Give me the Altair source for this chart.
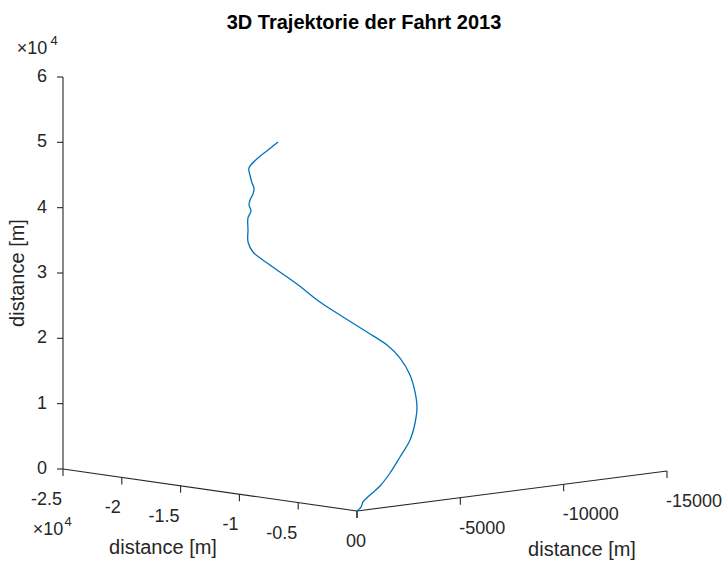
import altair as alt
import pandas as pd

# Trajectory of the 2013 ride, metres
traj_x = [0, -55, -150, -210, -285, -355, -430, -500, -600, -700,
          -1130, -1820, -2930, -4300, -6270, -8570, -11060, -13540, -16630, -18860,
          -19810, -20340, -20870, -21140, -21570, -21750, -21760, -21940, -22370, -22810,
          -23160, -22920, -22590, -22270]
traj_y = [0, -225, -375, -750, -1275, -1800, -2325, -2850, -3150, -3300,
          -3450, -3600, -3750, -3900, -4050, -4200, -4500, -4800, -5250, -5700,
          -6000, -6300, -6600, -6900, -7050, -7200, -7350, -7500, -7650, -7800,
          -7950, -8250, -8550, -8850]
traj_z = [0, 500, 1190, 2090, 3230, 4990, 7210, 9580, 12030, 14390,
          16520, 18880, 21130, 22710, 24130, 25780, 27310, 29300, 31240, 32470,
          33630, 35210, 36790, 37670, 38410, 39070, 39920, 40730, 41330, 42380,
          43300, 44770, 45950, 47140]

# Axis ticks and their labels
x_tick_vals = [-25000, -20000, -15000, -10000, -5000, 0]
x_tick_text = ["-2.5", "-2", "-1.5", "-1", "-0.5", "0"]
y_tick_vals = [0, -5000, -10000, -15000]
y_tick_text = ["0", "-5000", "-10000", "-15000"]
z_tick_vals = [0, 10000, 20000, 30000, 40000, 50000, 60000]
z_tick_text = ["0", "1", "2", "3", "4", "5", "6"]

TITLE = "3D Trajektorie der Fahrt 2013"
AXIS_TITLE = "distance [m]"

# Axis limits of the 3D box
X_LIM, Y_LIM, Z_LIM = -25000, -15000, 60000

# Orthographic view: on-screen span (px to the right, px up) of each full axis
SPAN = {"x": (-294, 42), "y": (310, 40), "z": (0, 392)}

FONT = "Liberation Sans"
AX_COLOR = "#262626"
LINE_COLOR = "#0072BD"


def proj(px="x", py="y", pz="z"):
    fx = f"(datum.{px}/{X_LIM})"
    fy = f"(datum.{py}/{Y_LIM})"
    fz = f"(datum.{pz}/{Z_LIM})"
    h = f"{SPAN['x'][0]}*{fx} + {SPAN['y'][0]}*{fy} + {SPAN['z'][0]}*{fz}"
    v = f"{SPAN['x'][1]}*{fx} + {SPAN['y'][1]}*{fy} + {SPAN['z'][1]}*{fz}"
    return h, v


XS = alt.Scale(domain=[-357, 366], nice=False, zero=False)
YS = alt.Scale(domain=[-52, 511], nice=False, zero=False)


def enc_x(f="h"):
    return alt.X(f"{f}:Q", scale=XS, axis=None)


def enc_y(f="v"):
    return alt.Y(f"{f}:Q", scale=YS, axis=None)


H, V = proj()
H2, V2 = proj("x2", "y2", "z2")

# trajectory line
traj_df = pd.DataFrame({"i": list(range(len(traj_x))), "x": traj_x, "y": traj_y, "z": traj_z})
trajectory = (
    alt.Chart(traj_df)
    .transform_calculate(h=H, v=V)
    .mark_line(color=LINE_COLOR, strokeWidth=1.3, interpolate="catmull-rom")
    .encode(x=enc_x(), y=enc_y(), order="i:Q")
)

# the three axis lines of the box
axes_df = pd.DataFrame({
    "x": [X_LIM, 0, X_LIM], "y": [0, 0, 0], "z": [0, 0, 0],
    "x2": [0, 0, X_LIM], "y2": [0, Y_LIM, 0], "z2": [0, 0, Z_LIM],
})
axis_lines = (
    alt.Chart(axes_df)
    .transform_calculate(h=H, v=V, h2=H2, v2=V2)
    .mark_rule(color=AX_COLOR, strokeWidth=1.1)
    .encode(x=enc_x(), y=enc_y(), x2="h2:Q", y2="v2:Q")
)

xt_df = pd.DataFrame({"x": x_tick_vals, "y": 0, "z": 0, "label": x_tick_text})
yt_df = pd.DataFrame({"x": 0, "y": y_tick_vals, "z": 0, "label": y_tick_text})
zt_df = pd.DataFrame({"x": X_LIM, "y": 0, "z": z_tick_vals, "label": z_tick_text})


def ticks(df, dh, dv):
    return (
        alt.Chart(df)
        .transform_calculate(h=H, v=V)
        .transform_calculate(h2=f"datum.h + {dh}", v2=f"datum.v + {dv}")
        .mark_rule(color=AX_COLOR, strokeWidth=1.1)
        .encode(x=enc_x(), y=enc_y(), x2="h2:Q", y2="v2:Q")
    )


def tick_labels(df, align, dx, dy):
    return (
        alt.Chart(df)
        .transform_calculate(h=H, v=V)
        .mark_text(font=FONT, fontSize=18, color=AX_COLOR, align=align,
                   baseline="middle", dx=dx, dy=dy)
        .encode(x=enc_x(), y=enc_y(), text="label:N")
    )


tick_layers = [
    ticks(xt_df, 0, -7), ticks(yt_df, 0, -7), ticks(zt_df, -6, 0),
    tick_labels(xt_df, "right", -1, 31),
    tick_labels(yt_df, "left", -1, 31),
    tick_labels(zt_df, "right", -16, 0),
]


def note(x, y, z, text, dx, dy, size=18, align="center", weight="normal", color=AX_COLOR):
    df = pd.DataFrame({"x": [x], "y": [y], "z": [z], "t": [text]})
    return (
        alt.Chart(df)
        .transform_calculate(h=H, v=V)
        .mark_text(font=FONT, fontSize=size, color=color, align=align,
                   baseline="middle", dx=dx, dy=dy, fontWeight=weight)
        .encode(x=enc_x(), y=enc_y(), text="t:N")
    )


# exponent markers (x 10^4) for the x and z axes
exponents = [
    note(X_LIM, 0, 0, "×10", -15, 61),
    note(X_LIM, 0, 0, "4", 5, 53, size=13),
    note(X_LIM, 0, Z_LIM, "×10", -31, -28),
    note(X_LIM, 0, Z_LIM, "4", -9, -36, size=13),
]

# axis titles
x_title = note(X_LIM / 2, 0, 0, AXIS_TITLE, -47, 58, size=20)
y_title = note(0, Y_LIM / 2, 0, AXIS_TITLE, 70, 59, size=20)
z_title_df = pd.DataFrame({"x": [X_LIM], "y": [0], "z": [Z_LIM / 2], "t": [AXIS_TITLE]})
z_title = (
    alt.Chart(z_title_df)
    .transform_calculate(h=H, v=V)
    .transform_calculate(hx="datum.h - 45")
    .mark_text(font=FONT, fontSize=20, color=AX_COLOR, angle=270,
               align="center", baseline="middle")
    .encode(x=enc_x("hx"), y=enc_y(), text="t:N")
)

title = (
    alt.Chart(pd.DataFrame({"t": [TITLE]}))
    .mark_text(font=FONT, fontSize=20, fontWeight="bold", color="#000000",
               align="center", baseline="middle")
    .encode(x=alt.value(364), y=alt.value(23), text="t:N")
)

chart = (
    alt.layer(axis_lines, *tick_layers, trajectory, *exponents,
              x_title, y_title, z_title, title)
    .properties(width=723, height=563, padding=0, autosize="none",
                background="white")
    .configure_view(stroke=None)
)

chart.save("out.html", embed_options={"renderer": "svg", "actions": False})
